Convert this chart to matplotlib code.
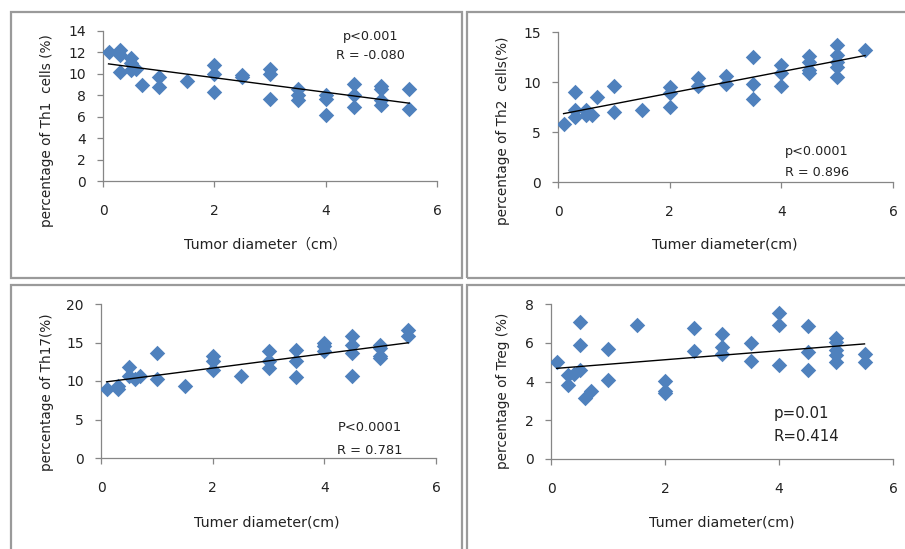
import numpy as np
import matplotlib
matplotlib.use("Agg")
import matplotlib.pyplot as plt
from matplotlib.patches import Rectangle

plt.rcParams["font.family"] = ["DejaVu Sans", "Noto Sans CJK SC"]

# Th1 cells
th1_x = [0.1, 0.3, 0.3, 0.3, 0.5, 0.5, 0.5, 0.6, 0.7, 1.0, 1.0, 1.5, 2.0, 2.0, 2.0,
         2.5, 2.5, 3.0, 3.0, 3.0, 3.5, 3.5, 3.5, 4.0, 4.0, 4.0, 4.5, 4.5, 4.5,
         5.0, 5.0, 5.0, 5.0, 5.5, 5.5]
th1_y = [12.0, 12.2, 11.8, 10.2, 11.5, 11.0, 10.4, 10.5, 9.0, 9.7, 8.8, 9.3, 10.8, 10.0, 8.3,
         9.9, 9.7, 10.5, 10.0, 7.7, 8.6, 8.0, 7.6, 8.0, 7.7, 6.2, 9.1, 8.0, 6.9,
         8.9, 8.6, 7.6, 7.1, 8.6, 6.7]

# Th2 cells
th2_x = [0.1, 0.3, 0.3, 0.3, 0.5, 0.5, 0.6, 0.7, 1.0, 1.0, 1.5, 2.0, 2.0, 2.0,
         2.5, 2.5, 3.0, 3.0, 3.5, 3.5, 3.5, 4.0, 4.0, 4.0, 4.5, 4.5, 4.5, 4.5,
         5.0, 5.0, 5.0, 5.0, 5.0, 5.5]
th2_y = [5.8, 9.0, 7.2, 6.5, 7.2, 6.7, 6.7, 8.5, 9.6, 7.0, 7.2, 9.5, 8.9, 7.5,
         10.4, 9.6, 10.6, 9.8, 12.5, 9.8, 8.3, 11.7, 10.9, 9.6, 12.6, 12.0, 11.2, 10.9,
         13.7, 12.7, 12.0, 11.5, 10.5, 13.2]

# Th17 cells
th17_x = [0.1, 0.3, 0.3, 0.5, 0.5, 0.6, 0.7, 1.0, 1.0, 1.5, 2.0, 2.0, 2.0, 2.5,
          3.0, 3.0, 3.0, 3.5, 3.5, 3.5, 4.0, 4.0, 4.0, 4.5, 4.5, 4.5, 4.5,
          5.0, 5.0, 5.0, 5.0, 5.5, 5.5]
th17_y = [9.0, 9.4, 9.0, 11.8, 10.6, 10.2, 10.6, 13.7, 10.2, 9.4, 13.2, 12.6, 11.4, 10.6,
          13.9, 12.6, 11.7, 14.0, 12.6, 10.5, 15.0, 14.6, 13.9, 15.8, 14.7, 13.6, 10.6,
          14.7, 14.3, 13.3, 13.0, 16.6, 15.9]

# Treg cells
treg_x = [0.1, 0.3, 0.3, 0.4, 0.5, 0.5, 0.5, 0.6, 0.7, 1.0, 1.0, 1.5, 2.0, 2.0, 2.0,
          2.5, 2.5, 3.0, 3.0, 3.0, 3.5, 3.5, 4.0, 4.0, 4.0, 4.5, 4.5, 4.5,
          5.0, 5.0, 5.0, 5.0, 5.0, 5.5, 5.5]
treg_y = [5.0, 4.35, 3.8, 4.4, 7.05, 5.9, 4.6, 3.15, 3.5, 5.7, 4.1, 6.9, 4.05, 3.5, 3.4,
          6.75, 5.55, 6.45, 5.8, 5.4, 6.0, 5.05, 7.55, 6.9, 4.85, 6.85, 5.5, 4.6,
          6.25, 6.05, 5.65, 5.35, 5.0, 5.4, 5.0]

panels = [
    # x, y, ylim, yticks, ylabel, xlabel, stats
    (th1_x, th1_y, 14, np.arange(0, 15, 2), "percentage of Th1  cells (%)",
     "Tumor diameter（cm）", ["p<0.001", "R = -0.080"]),
    (th2_x, th2_y, 15, [0, 5, 10, 15], "percentage of Th2  cells(%)",
     "Tumer diameter(cm)", ["p<0.0001", "R = 0.896"]),
    (th17_x, th17_y, 20, [0, 5, 10, 15, 20], "percentage of Th17(%)",
     "Tumer diameter(cm)", ["P<0.0001", "R = 0.781"]),
    (treg_x, treg_y, 8, [0, 2, 4, 6, 8], "percentage of Treg (%)",
     "Tumer diameter(cm)", ["p=0.01", "R=0.414"]),
]

# axes boxes in pixels (left, top, right, bottom) of the 905x549 image
W, H = 905, 549
axes_px = [(103, 31, 437, 181), (558, 32, 893, 182), (101, 304, 436, 458), (551, 304, 893, 459)]
stat_pos = [(4.8, 13.5, 11.7, "center"), (4.64, 3.0, 1.0, "center"),
            (4.82, 3.9, 1.0, "center"), (3.9, 2.37, 1.14, "left")]
stat_size = [9.2, 9.2, 9.4, 10.8]
xlabel_px = [(265, 245), (725, 245), (267, 523), (722, 523)]
ylabel_px = [(47, 131), (503, 131), (47, 392), (503, 391)]
frames_px = [(11, 12, 462, 278), (467, 12, 910, 278), (11, 285, 462, 560), (467, 285, 910, 560)]

blue = "#4F81BD"
spine_c = "#868686"
txt_c = "#222222"

fig = plt.figure(figsize=(9.05, 5.49), dpi=100)

for (l, t, r, b) in frames_px:
    fig.add_artist(Rectangle((l / W, 1 - b / H), (r - l) / W, (b - t) / H,
                             transform=fig.transFigure, fill=False,
                             edgecolor="#9a9a9a", linewidth=1.6))

for i, (x, y, ymax, yticks, ylab, xlab, stats) in enumerate(panels):
    l, t, r, b = axes_px[i]
    ax = fig.add_axes([l / W, 1 - b / H, (r - l) / W, (b - t) / H])
    ax.scatter(x, y, marker="D", s=62, color=blue, zorder=3, linewidths=0)
    # linear trend line
    k, c = np.polyfit(x, y, 1)
    xs = np.array([min(x), max(x)])
    ax.plot(xs, k * xs + c, color="black", linewidth=1.0, zorder=4)

    ax.set_xlim(0, 6)
    ax.set_ylim(0, ymax)
    ax.set_xticks([0, 2, 4, 6])
    ax.set_yticks(yticks)
    for s in ["top", "right"]:
        ax.spines[s].set_visible(False)
    for s in ["left", "bottom"]:
        ax.spines[s].set_color(spine_c)
        ax.spines[s].set_linewidth(0.9)
    ax.tick_params(direction="out", length=4, width=0.9, color=spine_c,
                   labelsize=10, labelcolor=txt_c)
    ax.tick_params(axis="x", pad=12.5)
    ax.tick_params(axis="y", pad=8.5)
    ax.patch.set_alpha(0)

    sx, sy1, sy2, ha = stat_pos[i]
    ax.text(sx, sy1, stats[0], ha=ha, va="center", fontsize=stat_size[i], color=txt_c)
    ax.text(sx, sy2, stats[1], ha=ha, va="center", fontsize=stat_size[i], color=txt_c)

    fig.text(xlabel_px[i][0] / W, 1 - xlabel_px[i][1] / H, xlab,
             ha="center", va="center", fontsize=10.2, color=txt_c)
    fig.text(ylabel_px[i][0] / W, 1 - ylabel_px[i][1] / H, ylab,
             ha="center", va="center", rotation=90, fontsize=9.8, color=txt_c)

fig.savefig("out.png", dpi=100)
